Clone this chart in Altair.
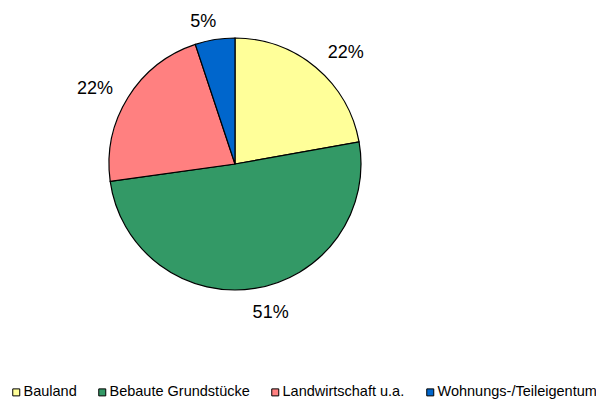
import altair as alt
import pandas as pd

categories = ["Bauland", "Bebaute Grundstücke", "Landwirtschaft u.a.", "Wohnungs-/Teileigentum"]
shares = [22.2, 50.6, 22.1, 5.1]
labels = ["22%", "51%", "22%", "5%"]
colors = ["#FFFF99", "#339966", "#FF8080", "#0066CC"]

df = pd.DataFrame({
    "category": categories,
    "share": shares,
    "label": labels,
    "order": list(range(len(categories))),
})

CX, CY, R = 227, 156, 126
FONT = "Liberation Sans"

base = alt.Chart(df)

pie = base.mark_arc(outerRadius=R, stroke="black", strokeWidth=1.2).encode(
    x=alt.value(CX),
    y=alt.value(CY),
    theta=alt.Theta("share:Q", stack=True),
    order=alt.Order("order:Q"),
    color=alt.Color(
        "category:N",
        scale=alt.Scale(domain=categories, range=colors),
        legend=alt.Legend(
            title=None,
            orient="none",
            direction="horizontal",
            legendX=1,
            legendY=377,
            padding=0,
            symbolType="square",
            symbolSize=49,
            symbolStrokeColor="black",
            symbolStrokeWidth=1,
            labelFont=FONT,
            labelFontSize=14.5,
            labelColor="black",
            labelOffset=0,
            columnPadding=18,
            labelLimit=400,
        ),
    ),
)

text = (
    base.transform_window(cum="sum(share)", sort=[alt.SortField("order")], frame=[None, 0])
    .transform_joinaggregate(total="sum(share)")
    .transform_calculate(mid="2*PI*(datum.cum - datum.share/2)/datum.total")
    .transform_calculate(
        sx="sin(datum.mid)",
        cy="cos(datum.mid)",
        hw="length(datum.label)*6.5",
    )
    .transform_calculate(
        lx=f"{CX} + 142*datum.sx + (datum.sx >= 0 ? 1 : -1)*datum.hw*min(1, 4.4*abs(datum.sx))",
        ly=f"{CY} - 142*datum.cy + (datum.cy < -0.9 ? 9 : (datum.cy > 0.6 ? -2 : 0))",
    )
    .mark_text(font=FONT, fontSize=18, color="black", align="center", baseline="middle")
    .encode(
        x=alt.X("lx:Q", scale=None),
        y=alt.Y("ly:Q", scale=None),
        text="label:N",
    )
)

chart = (
    alt.layer(pie, text)
    .properties(width=588, height=391, autosize="none", padding=0)
    .configure_view(stroke=None)
)

chart.save("out.html", embed_options={"renderer": "svg", "actions": False})
